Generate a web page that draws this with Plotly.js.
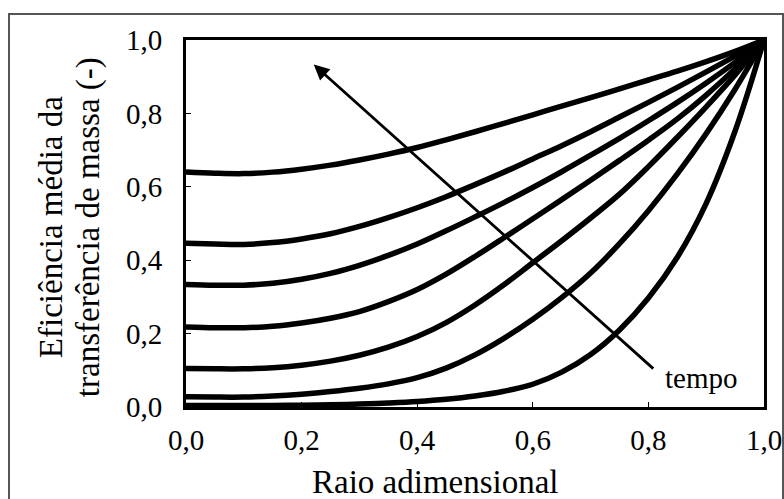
<!DOCTYPE html>
<html>
<head>
<meta charset="utf-8">
<script src="https://cdn.plot.ly/plotly-3.0.1.min.js"></script>
<style>html,body{margin:0;padding:0;background:#fff;}#chart{width:784px;height:499px;}</style>
</head>
<body>
<div id="chart"></div>
<script>
// Dimensionless radius (x) shared by all curves
const raio = [0, 0.05, 0.1, 0.15, 0.2, 0.25, 0.3, 0.35, 0.4, 0.45, 0.5, 0.55, 0.6, 0.65, 0.7, 0.75, 0.8, 0.85, 0.9, 0.95, 1.0];

// Mean mass-transfer efficiency, one series per time (latest time first)
const curva1 = [0.640, 0.637, 0.636, 0.640, 0.648, 0.659, 0.673, 0.689, 0.707, 0.728, 0.750, 0.773, 0.796, 0.820, 0.843, 0.867, 0.891, 0.915, 0.941, 0.969, 1.0];
const curva2 = [0.446, 0.444, 0.443, 0.448, 0.458, 0.472, 0.492, 0.516, 0.543, 0.573, 0.606, 0.640, 0.676, 0.712, 0.750, 0.790, 0.830, 0.871, 0.913, 0.956, 1.0];
const curva3 = [0.334, 0.332, 0.332, 0.337, 0.348, 0.364, 0.386, 0.413, 0.444, 0.480, 0.518, 0.557, 0.598, 0.641, 0.686, 0.732, 0.780, 0.830, 0.883, 0.939, 1.0];
const curva4 = [0.218, 0.216, 0.216, 0.220, 0.229, 0.242, 0.260, 0.287, 0.320, 0.362, 0.410, 0.461, 0.513, 0.565, 0.618, 0.672, 0.727, 0.785, 0.850, 0.922, 1.0];
const curva5 = [0.105, 0.104, 0.104, 0.107, 0.114, 0.125, 0.141, 0.163, 0.192, 0.230, 0.278, 0.333, 0.393, 0.453, 0.515, 0.580, 0.655, 0.735, 0.818, 0.905, 1.0];
const curva6 = [0.028, 0.027, 0.027, 0.030, 0.035, 0.042, 0.051, 0.063, 0.080, 0.106, 0.142, 0.187, 0.239, 0.298, 0.365, 0.445, 0.535, 0.635, 0.745, 0.866, 1.0];
const curva7 = [0.004, 0.004, 0.004, 0.004, 0.005, 0.006, 0.008, 0.011, 0.015, 0.021, 0.030, 0.043, 0.062, 0.095, 0.143, 0.210, 0.297, 0.408, 0.555, 0.752, 1.0];

const series = [curva1, curva2, curva3, curva4, curva5, curva6, curva7];
const tickVals = [0, 0.2, 0.4, 0.6, 0.8, 1.0];
const yTitleLines = ['Eficiência média da', 'transferência de massa (-)'];

const FONT = 'Liberation Serif, Times New Roman, serif';

const traces = series.map(function (s) {
  return {
    x: raio, y: s, type: 'scatter', mode: 'lines',
    line: {color: '#000', width: 5.5, shape: 'spline', smoothing: 1},
    hoverinfo: 'skip', showlegend: false
  };
});

const axisBase = {
  range: [0, 1], tickvals: tickVals, tickformat: '.1f',
  ticks: 'inside', ticklen: 5, tickwidth: 1, tickcolor: '#000',
  showline: true, linecolor: '#000', linewidth: 3, mirror: true,
  showgrid: false, zeroline: false, fixedrange: true,
  tickfont: {family: FONT, size: 29, color: '#000'}
};

const layout = {
  width: 784, height: 499,
  margin: {l: 186, r: 20, t: 40, b: 92},
  paper_bgcolor: '#fff', plot_bgcolor: '#fff',
  separators: ',.',
  showlegend: false,
  font: {family: FONT, color: '#000'},
  xaxis: Object.assign({}, axisBase, {ticklabelstandoff: 5}),
  yaxis: Object.assign({}, axisBase, {ticklabelstandoff: 15}),
  shapes: [{
    type: 'rect', xref: 'paper', yref: 'paper',
    x0: -0.3062, x1: 1.0329, y0: -0.3, y1: 1.0708,
    line: {color: '#555', width: 2}, fillcolor: 'rgba(0,0,0,0)', layer: 'below'
  }],
  annotations: [
    {
      text: 'Raio adimensional', xref: 'paper', yref: 'paper',
      x: 0.4317, y: -0.2044, xanchor: 'center', yanchor: 'middle', showarrow: false,
      font: {family: FONT, size: 33, color: '#000'}
    },
    {
      text: yTitleLines[0], xref: 'paper', yref: 'paper',
      x: -0.2336, y: 0.49, xanchor: 'center', yanchor: 'middle', showarrow: false,
      textangle: -90,
      font: {family: FONT, size: 33, color: '#000'}
    },
    {
      text: yTitleLines[1], xref: 'paper', yref: 'paper',
      x: -0.1696, y: 0.49, xanchor: 'center', yanchor: 'middle', showarrow: false,
      textangle: -90,
      font: {family: FONT, size: 33, color: '#000'}
    },
    {
      text: 'tempo', xref: 'x', yref: 'y', x: 0.825, y: 0.08,
      xanchor: 'left', yanchor: 'middle', showarrow: false,
      font: {family: FONT, size: 29, color: '#000'}
    },
    {
      text: '', xref: 'x', yref: 'y', axref: 'x', ayref: 'y',
      x: 0.221, y: 0.933, ax: 0.811, ay: 0.101,
      showarrow: true, arrowhead: 2, arrowsize: 1.1, arrowwidth: 2.8,
      arrowcolor: '#000', standoff: 0, startstandoff: 0
    }
  ]
};

Plotly.newPlot('chart', traces, layout, {staticPlot: true, displayModeBar: false});
</script>
</body>
</html>
